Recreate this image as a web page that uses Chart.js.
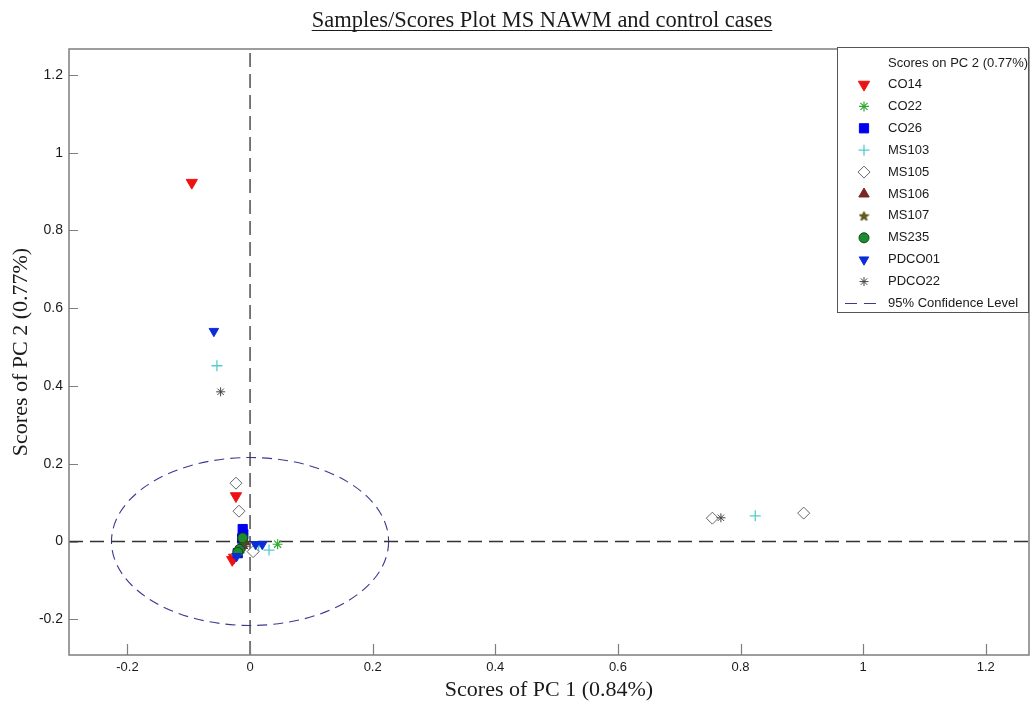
<!DOCTYPE html>
<html>
<head>
<meta charset="utf-8">
<script src="https://cdn.jsdelivr.net/npm/chart.js@4/dist/chart.umd.min.js"></script>
<style>
  html, body { margin: 0; padding: 0; background: #ffffff; }
  canvas { display: block; }
</style>
</head>
<body>
<canvas id="scores" width="1031" height="707"></canvas>
<script>
// Axis ticks and limits
const xTicks = [-0.2, 0, 0.2, 0.4, 0.6, 0.8, 1, 1.2];
const yTicks = [-0.2, 0, 0.2, 0.4, 0.6, 0.8, 1, 1.2];
const xLimits = [-0.2953, 1.2705];
const yLimits = [-0.2919, 1.2667];

// 95% confidence ellipse (semi-axes in score units)
const confRadiusPC1 = 0.226;
const confRadiusPC2 = 0.216;

// Scores [PC1, PC2] for each sample group
const co14   = [[-0.095, 0.923], [-0.023, 0.117], [-0.029, -0.047], [-0.026, -0.041]];
const co22   = [[0.045, -0.007], [-0.011, 0.006], [-0.015, -0.012]];
const co26   = [[-0.012, 0.032], [-0.011, 0.019], [-0.013, 0.008], [-0.020, -0.030]];
const ms103  = [[-0.054, 0.452], [0.824, 0.066], [0.031, -0.022], [0.014, -0.013], [-0.021, -0.034]];
const ms105  = [[-0.023, 0.150], [-0.018, 0.078], [0.005, -0.026], [0.754, 0.060], [0.903, 0.073]];
const ms106  = [[-0.018, -0.022], [-0.013, -0.010], [-0.009, 0.000]];
const ms107  = [[-0.016, -0.016], [-0.010, -0.004]];
const ms235  = [[-0.012, 0.009], [-0.017, -0.020], [-0.020, -0.028]];
const pdco01 = [[-0.059, 0.541], [0.009, -0.007], [0.020, -0.007], [-0.022, -0.038]];
const pdco22 = [[-0.048, 0.385], [0.768, 0.061], [-0.008, -0.012]];

const toPoints = arr => arr.map(([x, y]) => ({ x, y }));

// Five-pointed star marker
function pentagram(size, fill, edge) {
  const c = document.createElement('canvas');
  c.width = size; c.height = size;
  const g = c.getContext('2d');
  const cx = size / 2, cy = size / 2 + 0.5, ro = size / 2 - 0.5, ri = ro * 0.42;
  g.beginPath();
  for (let i = 0; i < 10; i++) {
    const r = i % 2 === 0 ? ro : ri;
    const a = -Math.PI / 2 + i * Math.PI / 5;
    const px = cx + r * Math.cos(a), py = cy + r * Math.sin(a);
    if (i === 0) g.moveTo(px, py); else g.lineTo(px, py);
  }
  g.closePath();
  g.fillStyle = fill; g.fill();
  g.strokeStyle = edge; g.lineWidth = 1; g.stroke();
  return c;
}

const series = [
  { label: 'CO14',   data: co14,   style: 'triangle', rotation: 180, radius: 6.5, fill: '#ee1111', edge: '#ee1111', bw: 1 },
  { label: 'CO22',   data: co22,   style: 'star',     rotation: 0,   radius: 5,   fill: '#33aa33', edge: '#33aa33', bw: 1.2 },
  { label: 'CO26',   data: co26,   style: 'rect',     rotation: 0,   radius: 6.5, fill: '#0000ee', edge: '#0000ee', bw: 1 },
  { label: 'MS103',  data: ms103,  style: 'cross',    rotation: 0,   radius: 5.5, fill: '#55cccc', edge: '#55cccc', bw: 1.3 },
  { label: 'MS105',  data: ms105,  style: 'rectRot',  rotation: 0,   radius: 6,   fill: '#ffffff', edge: '#666666', bw: 1 },
  { label: 'MS106',  data: ms106,  style: 'triangle', rotation: 0,   radius: 6,   fill: '#7a2626', edge: '#7a2626', bw: 1 },
  { label: 'MS107',  data: ms107,  style: pentagram(11, '#6b5a14', '#4a4a10'), rotation: 0, radius: 5, fill: '#6b5a14', edge: '#4a4a10', bw: 1 },
  { label: 'MS235',  data: ms235,  style: 'circle',   rotation: 0,   radius: 5,   fill: '#1e8c2e', edge: '#0c4a18', bw: 1 },
  { label: 'PDCO01', data: pdco01, style: 'triangle', rotation: 180, radius: 5.5, fill: '#0a2dd8', edge: '#0a2dd8', bw: 1 },
  { label: 'PDCO22', data: pdco22, style: 'star',     rotation: 0,   radius: 4.5, fill: '#444444', edge: '#444444', bw: 1 }
];

const n = series.length;
const datasets = series.map((s, i) => ({
  type: 'scatter',
  label: s.label,
  data: toPoints(s.data),
  pointStyle: s.style,
  rotation: s.rotation,
  pointRadius: s.radius,
  pointHoverRadius: s.radius,
  backgroundColor: s.fill,
  borderColor: s.edge,
  pointBorderWidth: s.bw,
  order: n - i
}));

// Dashed zero reference lines
datasets.push({
  type: 'line', label: '_zeroX',
  data: [{ x: xLimits[0], y: 0 }, { x: xLimits[1], y: 0 }],
  borderColor: '#333333', borderWidth: 1.3, borderDash: [14, 7],
  pointRadius: 0, fill: false, order: 50
});
datasets.push({
  type: 'line', label: '_zeroY',
  data: [{ x: 0, y: yLimits[0] }, { x: 0, y: yLimits[1] }],
  borderColor: '#333333', borderWidth: 1.3, borderDash: [14, 7],
  pointRadius: 0, fill: false, order: 50
});

const fmt = v => String(Math.round(v * 10) / 10);
const frameColor = '#7e7e7e';
const textColor = '#1a1a1a';

const confidencePlugin = {
  id: 'confidence',
  beforeDatasetsDraw(chart) {
    const { ctx, scales: { x, y }, chartArea } = chart;
    const cx = x.getPixelForValue(0), cy = y.getPixelForValue(0);
    const rx = x.getPixelForValue(confRadiusPC1) - cx;
    const ry = cy - y.getPixelForValue(confRadiusPC2);
    ctx.save();
    ctx.beginPath();
    ctx.rect(chartArea.left, chartArea.top, chartArea.right - chartArea.left, chartArea.bottom - chartArea.top);
    ctx.clip();
    ctx.beginPath();
    ctx.ellipse(cx, cy, rx, ry, 0, 0, Math.PI * 2);
    ctx.strokeStyle = '#3a3a92';
    ctx.lineWidth = 1.1;
    ctx.setLineDash([10, 6]);
    ctx.stroke();
    ctx.restore();
  }
};

const framePlugin = {
  id: 'frame',
  afterDatasetsDraw(chart) {
    const { ctx, scales: { x, y }, chartArea: a } = chart;
    ctx.save();
    ctx.strokeStyle = frameColor;
    ctx.lineWidth = 1.5;
    ctx.strokeRect(a.left, a.top, a.right - a.left, a.bottom - a.top);
    ctx.lineWidth = 1.2;
    ctx.beginPath();
    xTicks.forEach(v => {
      const px = Math.round(x.getPixelForValue(v)) + 0.5;
      ctx.moveTo(px, a.bottom);
      ctx.lineTo(px, a.bottom - 11);
    });
    yTicks.forEach(v => {
      const py = Math.round(y.getPixelForValue(v)) + 0.5;
      ctx.moveTo(a.left, py);
      ctx.lineTo(a.left + 9, py);
    });
    ctx.stroke();
    ctx.restore();
  }
};

const titlePlugin = {
  id: 'underlinedTitle',
  afterDraw(chart) {
    const { ctx, chartArea: a } = chart;
    const text = 'Samples/Scores Plot MS NAWM and control cases';
    ctx.save();
    ctx.font = '22.5px "Liberation Serif", "Times New Roman", serif';
    ctx.fillStyle = textColor;
    ctx.textAlign = 'center';
    ctx.textBaseline = 'alphabetic';
    const cx = (a.left + a.right) / 2 - 7;
    ctx.fillText(text, cx, 27);
    const w = ctx.measureText(text).width;
    ctx.strokeStyle = textColor;
    ctx.lineWidth = 1;
    ctx.beginPath();
    ctx.moveTo(cx - w / 2, 30.5);
    ctx.lineTo(cx + w / 2, 30.5);
    ctx.stroke();
    ctx.restore();
  }
};

const legendPlugin = {
  id: 'scoreLegend',
  afterDraw(chart) {
    const { ctx, chartArea: a } = chart;
    const boxW = 192, rowH = 21.9;
    const left = a.right - boxW, top = a.top - 2;
    const boxH = 266;
    ctx.save();
    ctx.fillStyle = '#ffffff';
    ctx.fillRect(left, top, boxW, boxH);
    ctx.strokeStyle = '#555555';
    ctx.lineWidth = 1;
    ctx.strokeRect(left + 0.5, top + 0.5, boxW - 1, boxH - 1);

    ctx.font = '13px "Liberation Sans", Arial, sans-serif';
    ctx.fillStyle = textColor;
    ctx.textAlign = 'left';
    ctx.textBaseline = 'middle';
    const textX = left + 51;
    const markX = left + 27;
    ctx.fillText('Scores on PC 2 (0.77%)', textX, top + 16);

    chart.data.datasets.forEach((ds, i) => {
      if (ds.label.startsWith('_')) return;
      const yy = top + 37.5 + i * rowH;
      ctx.save();
      ctx.fillStyle = ds.backgroundColor;
      ctx.strokeStyle = ds.borderColor;
      ctx.lineWidth = ds.pointBorderWidth;
      Chart.helpers.drawPoint(ctx, {
        pointStyle: ds.pointStyle,
        rotation: ds.rotation,
        radius: ds.pointRadius,
        borderWidth: ds.pointBorderWidth
      }, markX, yy);
      ctx.restore();
      ctx.fillStyle = textColor;
      ctx.fillText(ds.label, textX, yy);
    });

    const lastY = top + 37.5 + n * rowH;
    ctx.strokeStyle = '#3a3a92';
    ctx.lineWidth = 1.1;
    ctx.setLineDash([12, 7]);
    ctx.beginPath();
    ctx.moveTo(left + 8, lastY);
    ctx.lineTo(left + 46, lastY);
    ctx.stroke();
    ctx.setLineDash([]);
    ctx.fillText('95% Confidence Level', textX, lastY);
    ctx.restore();
  }
};

new Chart(document.getElementById('scores'), {
  type: 'scatter',
  data: { datasets },
  options: {
    responsive: false,
    animation: false,
    events: [],
    layout: { autoPadding: false, padding: { left: 0, right: 2, top: 49, bottom: 0 } },
    plugins: {
      legend: { display: false },
      tooltip: { enabled: false },
      title: { display: false }
    },
    scales: {
      x: {
        type: 'linear',
        min: xLimits[0],
        max: xLimits[1],
        afterBuildTicks: s => { s.ticks = xTicks.map(v => ({ value: v })); },
        afterFit: s => { s.height = 52; s.paddingLeft = 0; s.paddingRight = 0; },
        grid: { display: false, drawTicks: false },
        border: { display: false },
        ticks: {
          padding: 5,
          color: textColor,
          font: { family: '"Liberation Sans", Arial, sans-serif', size: 13 },
          autoSkip: false,
          maxRotation: 0,
          callback: v => fmt(v)
        },
        title: {
          display: true,
          text: 'Scores of PC 1 (0.84%)',
          color: textColor,
          font: { family: '"Liberation Serif", "Times New Roman", serif', size: 22 },
          padding: { top: 0, bottom: 4 }
        }
      },
      y: {
        type: 'linear',
        min: yLimits[0],
        max: yLimits[1],
        afterBuildTicks: s => { s.ticks = yTicks.map(v => ({ value: v })); },
        afterFit: s => { s.width = 69; s.paddingTop = 0; s.paddingBottom = 0; },
        grid: { display: false, drawTicks: false },
        border: { display: false },
        ticks: {
          padding: 6,
          color: textColor,
          font: { family: '"Liberation Sans", Arial, sans-serif', size: 14 },
          autoSkip: false,
          callback: v => fmt(v)
        },
        title: {
          display: true,
          text: 'Scores of PC 2 (0.77%)',
          color: textColor,
          font: { family: '"Liberation Serif", "Times New Roman", serif', size: 22 },
          padding: { top: 8, bottom: 0 }
        }
      }
    }
  },
  plugins: [confidencePlugin, framePlugin, titlePlugin, legendPlugin]
});
</script>
</body>
</html>
